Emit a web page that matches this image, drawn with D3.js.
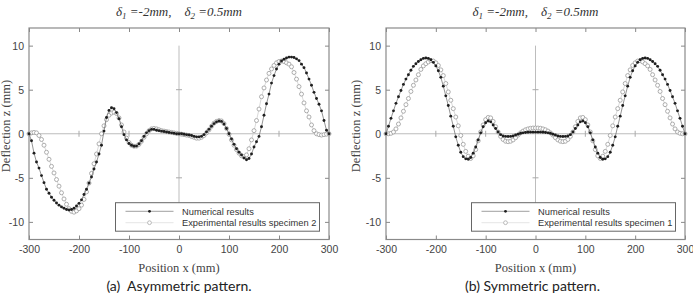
<!DOCTYPE html>
<html><head><meta charset="utf-8">
<script src="https://cdn.jsdelivr.net/npm/d3@7"></script>
<style>body{margin:0;background:#fff} svg{display:block} text{white-space:pre}</style>
</head><body>
<svg id="c" width="693" height="296"></svg>
<script>
// sampling positions along the specimen (mm)
const positions = [-300,-295,-290,-285,-280,-275,-270,-265,-260,-255,-250,-245,-240,-235,-230,-225,-220,-215,-210,-205,-200,-195,-190,-185,-180,-175,-170,-165,-160,-155,-150,-145,-140,-135,-130,-125,-120,-115,-110,-105,-100,-95,-90,-85,-80,-75,-70,-65,-60,-55,-50,-45,-40,-35,-30,-25,-20,-15,-10,-5,0,5,10,15,20,25,30,35,40,45,50,55,60,65,70,75,80,85,90,95,100,105,110,115,120,125,130,135,140,145,150,155,160,165,170,175,180,185,190,195,200,205,210,215,220,225,230,235,240,245,250,255,260,265,270,275,280,285,290,295,300];

// (a) asymmetric pattern
const asymNumerical = [0.0,-0.8,-2.2,-3.2,-3.9,-4.75,-5.55,-6.3,-6.75,-7.2,-7.55,-7.85,-8.1,-8.3,-8.45,-8.6,-8.65,-8.6,-8.45,-8.2,-7.9,-7.5,-6.9,-6.3,-5.6,-4.9,-4.0,-3.2,-2.3,-1.3,0.3,1.85,2.65,2.95,2.85,2.4,1.7,0.8,-0.1,-0.7,-1.1,-1.3,-1.42,-1.4,-1.15,-0.8,-0.3,0.1,0.35,0.5,0.5,0.4,0.35,0.3,0.25,0.2,0.15,0.1,0.05,0.0,0.0,0.0,-0.05,-0.1,-0.15,-0.2,-0.3,-0.35,-0.35,-0.3,-0.1,0.2,0.5,0.85,1.15,1.35,1.45,1.4,1.1,0.6,0.0,-0.6,-1.2,-1.7,-2.1,-2.4,-2.75,-2.95,-2.8,-2.3,-1.5,-0.9,-0.3,0.8,2.1,3.4,4.5,5.75,6.6,7.35,7.9,8.25,8.45,8.6,8.7,8.7,8.65,8.5,8.3,7.9,7.5,6.9,6.2,5.5,4.7,4.0,3.35,2.6,1.5,0.4,0.0];
const asymExperimental = [0.0,0.1,0.15,0.1,-0.2,-0.65,-1.3,-2.1,-2.9,-3.7,-4.45,-5.2,-5.95,-6.7,-7.4,-8.0,-8.5,-8.8,-8.9,-8.75,-8.5,-8.1,-7.45,-6.6,-5.6,-4.5,-3.4,-2.3,-1.15,0.0,0.9,1.6,2.1,2.35,2.45,2.3,1.8,1.0,0.2,-0.5,-1.0,-1.3,-1.42,-1.4,-1.2,-0.85,-0.4,0.0,0.35,0.55,0.6,0.55,0.45,0.35,0.3,0.25,0.2,0.15,0.1,0.05,0.0,-0.05,-0.1,-0.15,-0.2,-0.3,-0.4,-0.5,-0.5,-0.4,-0.2,0.1,0.45,0.85,1.2,1.4,1.5,1.45,1.15,0.6,-0.05,-0.7,-1.3,-1.8,-2.2,-2.5,-2.6,-2.4,-1.7,-0.7,0.35,1.5,2.8,4.2,5.2,6.1,6.85,7.35,7.75,8.05,8.2,8.25,8.2,8.05,7.9,7.6,6.95,6.2,5.35,4.5,3.5,2.6,1.9,1.0,0.35,0.0,-0.1,-0.15,-0.1,-0.05,0.0];

// (b) symmetric pattern
const symNumerical = [0.0,0.85,1.75,2.6,3.45,4.2,4.9,5.6,6.2,6.7,7.2,7.65,7.95,8.2,8.4,8.55,8.6,8.55,8.4,8.1,7.7,7.15,6.4,5.4,4.3,3.2,2.0,0.85,-0.35,-1.3,-2.1,-2.6,-2.85,-2.9,-2.7,-2.2,-1.5,-0.7,0.1,0.8,1.25,1.45,1.35,1.0,0.6,0.2,-0.1,-0.25,-0.3,-0.32,-0.3,-0.25,-0.15,-0.05,0.05,0.1,0.15,0.17,0.18,0.18,0.18,0.18,0.18,0.17,0.15,0.1,0.05,-0.05,-0.15,-0.25,-0.3,-0.32,-0.3,-0.25,-0.1,0.2,0.6,1.0,1.35,1.45,1.25,0.8,0.1,-0.7,-1.5,-2.2,-2.7,-2.9,-2.85,-2.6,-2.1,-1.3,-0.35,0.85,2.0,3.2,4.3,5.4,6.4,7.15,7.7,8.1,8.4,8.55,8.6,8.55,8.4,8.2,7.95,7.65,7.2,6.7,6.2,5.6,4.9,4.2,3.45,2.6,1.75,0.85,0.0];
const symExperimental = [0.0,0.0,0.05,0.2,0.55,1.1,1.8,2.55,3.3,4.0,4.8,5.5,6.1,6.7,7.3,7.7,7.95,8.15,8.3,8.25,8.05,7.75,7.25,6.6,5.7,4.75,3.8,2.85,1.9,0.9,-0.2,-1.2,-2.0,-2.55,-2.8,-2.5,-1.8,-0.8,0.2,1.0,1.6,1.85,1.8,1.4,0.8,0.2,-0.3,-0.65,-0.85,-0.9,-0.85,-0.7,-0.45,-0.15,0.1,0.3,0.45,0.55,0.62,0.65,0.65,0.65,0.62,0.55,0.45,0.3,0.1,-0.15,-0.45,-0.7,-0.85,-0.9,-0.85,-0.65,-0.3,0.2,0.8,1.4,1.8,1.85,1.6,1.0,0.2,-0.8,-1.8,-2.5,-2.8,-2.55,-2.0,-1.2,-0.2,0.9,1.9,2.85,3.8,4.75,5.7,6.6,7.25,7.75,8.05,8.25,8.3,8.15,7.95,7.7,7.3,6.7,6.1,5.5,4.8,4.0,3.3,2.55,1.8,1.1,0.55,0.2,0.05,0.0,0.0];

const xTicks = [-300,-200,-100,0,100,200,300];
const yTicks = [-10,-5,0,5,10];
const centerXTicks = [-200,-100,100,200];
const centerYTicks = [-5,5];
const seriesNames = ["Numerical results"];
const expNames = ["Experimental results specimen 2","Experimental results specimen 1"];
const captions = ["(a)  Asymmetric pattern.","(b) Symmetric pattern."];

const svg = d3.select("#c");
const layouts = [
  {left:29, right:329, ylabX: 6},
  {left:386, right:685, ylabX: 356}
];
const plotTop = 28, plotBottom = 239.5;
const dataSets = [
  {num: asymNumerical, exp: asymExperimental},
  {num: symNumerical, exp: symExperimental}
];
const SANS = "'Liberation Sans', Arial, sans-serif";
const SERIF = "'Liberation Serif', 'Times New Roman', serif";

dataSets.forEach((ds, i) => {
  const L = layouts[i];
  const x = d3.scaleLinear().domain([-300,300]).range([L.left, L.right]);
  const y = d3.scaleLinear().domain([-12,12]).range([plotBottom, plotTop]);
  const g = svg.append("g");
  const cx = (L.left + L.right)/2;

  // title
  const t = g.append("text").attr("x", cx).attr("y", 15.5).attr("text-anchor","middle")
    .attr("font-family",SERIF).attr("font-style","italic")
    .attr("font-size",13).attr("fill","#333");
  t.append("tspan").text("δ");
  t.append("tspan").attr("font-size",9).attr("dy",3).text("1");
  t.append("tspan").attr("dy",-3).text(" =-2mm,    δ");
  t.append("tspan").attr("font-size",9).attr("dy",3).text("2");
  t.append("tspan").attr("dy",-3).text(" =0.5mm");

  // center cross lines
  g.append("line").attr("x1",L.left).attr("x2",L.right).attr("y1",y(0)).attr("y2",y(0))
    .attr("stroke","#bdbdbd").attr("stroke-width",1);
  g.append("line").attr("x1",x(0)).attr("x2",x(0)).attr("y1",y(10)).attr("y2",y(-10))
    .attr("stroke","#bdbdbd").attr("stroke-width",1);
  g.selectAll(".cxt").data(centerXTicks).enter().append("line")
    .attr("x1",d=>x(d)).attr("x2",d=>x(d)).attr("y1",y(0)-3).attr("y2",y(0)+3)
    .attr("stroke","#aaa").attr("stroke-width",1);
  g.selectAll(".cyt").data(centerYTicks).enter().append("line")
    .attr("x1",x(0)-3).attr("x2",x(0)+3).attr("y1",d=>y(d)).attr("y2",d=>y(d))
    .attr("stroke","#aaa").attr("stroke-width",1);

  // axes
  const fmt = d => String(d);
  const styleAxis = sel => {
    sel.select(".domain").remove();
    sel.selectAll(".tick line").attr("stroke","#888");
    sel.selectAll(".tick text").attr("fill","#444")
      .attr("font-family",SANS).attr("font-size",10.5);
  };
  g.append("g").attr("transform",`translate(0,${plotBottom})`)
    .call(d3.axisBottom(x).tickValues(xTicks).tickSize(-4).tickPadding(6).tickFormat(fmt)).call(styleAxis);
  g.append("g").attr("transform",`translate(0,${plotTop})`)
    .call(d3.axisTop(x).tickValues(xTicks).tickSize(-4).tickFormat("")).call(styleAxis);
  g.append("g").attr("transform",`translate(${L.left},0)`)
    .call(d3.axisLeft(y).tickValues(yTicks).tickSize(-4).tickPadding(5).tickFormat(fmt)).call(styleAxis);
  g.append("g").attr("transform",`translate(${L.right},0)`)
    .call(d3.axisRight(y).tickValues(yTicks).tickSize(-4).tickFormat("")).call(styleAxis);

  g.append("rect").attr("x",L.left).attr("y",plotTop).attr("width",L.right-L.left).attr("height",plotBottom-plotTop)
    .attr("fill","none").attr("stroke","#8a8a8a").attr("stroke-width",1.2);

  const line = d3.line().x((d,j)=>x(positions[j])).y(d=>y(d));
  // experimental
  g.append("path").datum(ds.exp).attr("d",line).attr("fill","none").attr("stroke","#cfcfcf").attr("stroke-width",0.8);
  g.selectAll(".e").data(ds.exp).enter().append("circle")
    .attr("cx",(d,j)=>x(positions[j])).attr("cy",d=>y(d)).attr("r",2)
    .attr("fill","#fff").attr("stroke","#9a9a9a").attr("stroke-width",0.8);
  // numerical
  g.append("path").datum(ds.num).attr("d",line).attr("fill","none").attr("stroke","#666").attr("stroke-width",0.7);
  g.selectAll(".n").data(ds.num).enter().append("circle")
    .attr("cx",(d,j)=>x(positions[j])).attr("cy",d=>y(d)).attr("r",1.45)
    .attr("fill","#1e1e1e");

  // legend
  const lw = 204, lh = 28.5;
  const lx = L.right - 9.5 - lw, ly = 202.7;
  const lg = g.append("g").attr("transform",`translate(${lx},${ly})`);
  lg.append("rect").attr("width",lw).attr("height",lh).attr("fill","#fff").attr("stroke","#666").attr("stroke-width",1);
  lg.append("line").attr("x1",10).attr("x2",58).attr("y1",8.6).attr("y2",8.6).attr("stroke","#888").attr("stroke-width",0.8);
  lg.append("circle").attr("cx",34).attr("cy",8.6).attr("r",1.4).attr("fill","#1e1e1e");
  lg.append("line").attr("x1",10).attr("x2",58).attr("y1",20).attr("y2",20).attr("stroke","#ddd").attr("stroke-width",0.8);
  lg.append("circle").attr("cx",34).attr("cy",20).attr("r",1.9).attr("fill","#fff").attr("stroke","#aaa").attr("stroke-width",0.8);
  lg.append("text").attr("x",66.5).attr("y",12).text(seriesNames[0])
    .attr("font-family",SANS).attr("font-size",9.3).attr("fill","#333");
  lg.append("text").attr("x",66.5).attr("y",23.4).text(expNames[i])
    .attr("font-family",SANS).attr("font-size",9.3).attr("fill","#333");

  // axis labels
  g.append("text").attr("x",cx).attr("y",271.5).attr("text-anchor","middle")
    .attr("font-family",SERIF).attr("font-size",12.5).attr("fill","#444")
    .text("Position x (mm)");
  g.append("text").attr("transform",`translate(${L.ylabX},126) rotate(-90)`).attr("dy","0.35em")
    .attr("text-anchor","middle").attr("font-family",SERIF).attr("font-size",12.5).attr("fill","#444")
    .text("Deflection z (mm)");

  // caption
  g.append("text").attr("x",cx - (i===0?0:3)).attr("y",291).attr("text-anchor","middle")
    .attr("font-family","Lato, 'Open Sans', sans-serif").attr("font-size",14).attr("fill","#222")
    .text(captions[i]);
});
</script>
</body></html>
